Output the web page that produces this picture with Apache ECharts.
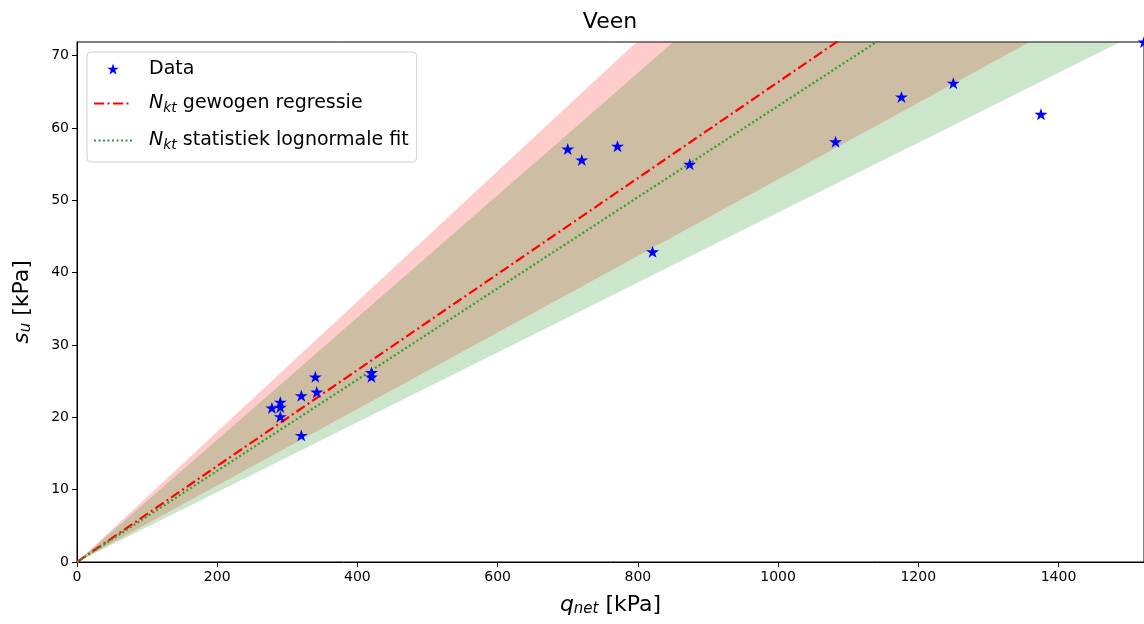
<!DOCTYPE html>
<html><head><meta charset="utf-8">
<script src="https://cdn.jsdelivr.net/npm/echarts@6/dist/echarts.min.js"></script>
<style>html,body{margin:0;padding:0;background:#fff}#c{width:1144px;height:624px}</style>
</head><body><div id="c"></div>
<script>
// ---- data ----
const qnet = [278, 290, 290, 290, 320, 320, 340, 342, 420, 420, 700, 720, 771, 821, 874, 1082, 1176, 1250, 1375, 1522];
const su   = [21.3, 22.1, 21.4, 20.1, 23.0, 17.5, 25.6, 23.5, 26.2, 25.6, 57.1, 55.6, 57.5, 42.9, 55.0, 58.1, 64.3, 66.2, 61.9, 71.9];
const xTicks = [0, 200, 400, 600, 800, 1000, 1200, 1400];
const yTicks = [0, 10, 20, 30, 40, 50, 60, 70];
const xMax = 1522, yMax = 71.9;
const nktRegression = 15.07;     // N_kt gewogen regressie
const nktLognormal = 15.86;      // N_kt statistiek lognormale fit
const redBandNkt = [11.1, 18.9];   // [upper-su Nkt, lower-su Nkt]
const greenBandNkt = [11.83, 20.7];

const FONT = 'DejaVu Sans';
const pts = qnet.map((q, i) => [q, su[i]]);
const lineFrom = nkt => [[0, 0], [xMax, xMax / nkt]];
function bandSeries(nkts, color) {
  return {
    type: 'custom', data: [nkts], clip: true, silent: true, z: 1,
    renderItem: function (params, api) {
      const hi = api.value(0), lo = api.value(1);
      const p0 = api.coord([0, 0]);
      const p1 = api.coord([xMax, xMax / hi]);
      const p2 = api.coord([xMax, xMax / lo]);
      return { type: 'polygon', shape: { points: [p0, p1, p2] }, style: { fill: color, stroke: null } };
    }
  };
}
const STAR = 'path://M12,0 L14.9,8.6 L24,8.6 L16.6,14 L19.4,22.7 L12,17.3 L4.6,22.7 L7.4,14 L0,8.6 L9.1,8.6 Z';
const nameMap = {
  'Data': 'Data',
  'Nkt gewogen regressie': '{n|N}{s|kt}{t| gewogen regressie}',
  'Nkt statistiek lognormale fit': '{n|N}{s|kt}{t| statistiek lognormale fit}'
};
const HID = 'rgba(0,0,0,0)';

const chart = echarts.init(document.getElementById('c'), null, { renderer: 'canvas' });
chart.setOption({
  animation: false,
  backgroundColor: '#fff',
  title: {
    text: 'Veen', left: 605, top: 6, textAlign: 'center',
    textStyle: { fontFamily: FONT, fontSize: 22, fontWeight: 'normal', color: '#000' }
  },
  grid: { left: 77, top: 42, right: -1, bottom: 62, show: true, borderColor: '#000', borderWidth: 1, backgroundColor: 'transparent' },
  legend: {
    orient: 'vertical', left: 87, top: 52,
    padding: [6, 8, 8, 6], itemWidth: 38, itemHeight: 11, itemGap: 10,
    backgroundColor: 'rgba(255,255,255,0.8)', borderColor: '#d0d0d0', borderWidth: 1, borderRadius: 4,
    data: [
      { name: 'Data', itemStyle: { opacity: 1 } },
      { name: 'Nkt gewogen regressie', itemStyle: { color: HID, borderColor: HID } },
      { name: 'Nkt statistiek lognormale fit', itemStyle: { color: HID, borderColor: HID } }
    ],
    formatter: n => nameMap[n],
    textStyle: {
      fontFamily: FONT, fontSize: 19, color: '#000', padding: [0, 0, 0, 12], lineHeight: 22,
      rich: {
        n: { fontFamily: FONT, fontSize: 19, fontStyle: 'italic', color: '#000', lineHeight: 27 },
        s: { fontFamily: FONT, fontSize: 14, fontStyle: 'italic', color: '#000', lineHeight: 27, padding: [9, 0, 0, 0] },
        t: { fontFamily: FONT, fontSize: 19, color: '#000', lineHeight: 27 }
      }
    }
  },
  xAxis: {
    type: 'value', min: 0, max: xMax, interval: 200,
    name: '{i|q}{s|net} [kPa]', nameLocation: 'middle', nameGap: 31,
    nameTextStyle: {
      fontFamily: FONT, fontSize: 22, color: '#000',
      rich: {
        i: { fontFamily: FONT, fontSize: 22, fontStyle: 'italic', color: '#000' },
        s: { fontFamily: FONT, fontSize: 15, fontStyle: 'italic', color: '#000', padding: [9, 0, 0, 0] }
      }
    },
    axisLine: { show: true, onZero: false, lineStyle: { color: '#000', width: 1 } },
    axisTick: { show: true, length: 5, customValues: xTicks, lineStyle: { color: '#000' } },
    axisLabel: { customValues: xTicks, formatter: v => String(v), fontFamily: FONT, fontSize: 14, color: '#000', margin: 8 },
    splitLine: { show: false }
  },
  yAxis: {
    type: 'value', min: 0, max: yMax, interval: 10,
    name: '{i|s}{s|u} [kPa]', nameLocation: 'middle', nameGap: 43, nameRotate: 90,
    nameTextStyle: {
      fontFamily: FONT, fontSize: 22, color: '#000',
      rich: {
        i: { fontFamily: FONT, fontSize: 22, fontStyle: 'italic', color: '#000' },
        s: { fontFamily: FONT, fontSize: 15, fontStyle: 'italic', color: '#000', padding: [9, 0, 0, 0] }
      }
    },
    axisLine: { show: true, onZero: false, lineStyle: { color: '#000', width: 1 } },
    axisTick: { show: true, length: 5, customValues: yTicks, lineStyle: { color: '#000' } },
    axisLabel: { customValues: yTicks, formatter: v => String(v), fontFamily: FONT, fontSize: 14, color: '#000', margin: 8 },
    splitLine: { show: false }
  },
  series: [
    bandSeries(redBandNkt, 'rgba(255,0,0,0.2)'),
    bandSeries(greenBandNkt, 'rgba(0,128,0,0.2)'),
    { type: 'line', name: 'Nkt gewogen regressie', data: lineFrom(nktRegression), symbol: 'circle', showSymbol: false, z: 3,
      itemStyle: { color: HID, borderColor: HID },
      lineStyle: { color: '#ff0000', width: 2.2, type: [10, 3.5, 2, 3.5] } },
    { type: 'line', name: 'Nkt statistiek lognormale fit', data: lineFrom(nktLognormal), symbol: 'circle', showSymbol: false, z: 3,
      itemStyle: { color: HID, borderColor: HID },
      lineStyle: { color: '#2ca02c', width: 2.2, type: [2, 2.5] } },
    { type: 'scatter', name: 'Data', data: pts, symbol: STAR, symbolSize: [13, 12], z: 4,
      itemStyle: { color: '#0000ff', opacity: 1 }, clip: false }
  ]
});
</script></body></html>
